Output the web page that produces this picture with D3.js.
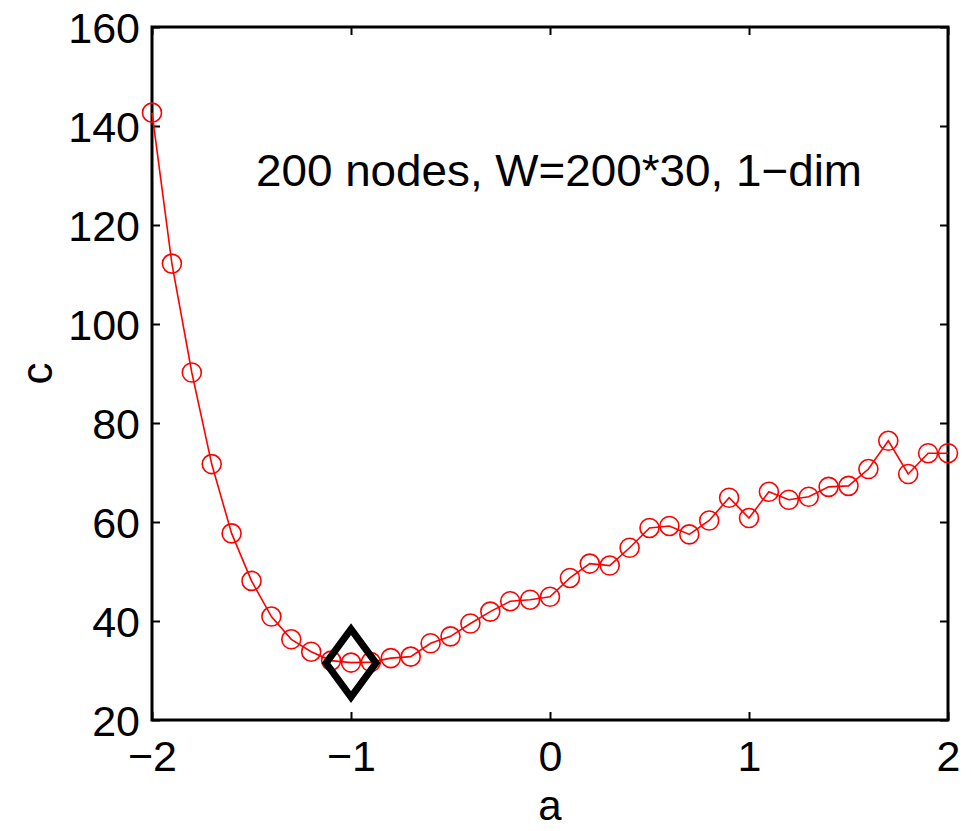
<!DOCTYPE html>
<html>
<head>
<meta charset="utf-8">
<script src="https://cdn.jsdelivr.net/npm/d3@7"></script>
<style>
	body { margin: 0; background: #fff; }
	text { font-family: "Liberation Sans", Arial, sans-serif; fill: #000; }
</style>
</head>
<body>
<div id="chart"></div>
<script>
// a values from -2 to 2 in 0.1 steps
const aValues = [-2.0, -1.9, -1.8, -1.7, -1.6, -1.5, -1.4, -1.3, -1.2, -1.1,
	-1.0, -0.9, -0.8, -0.7, -0.6, -0.5, -0.4, -0.3, -0.2, -0.1,
	0.0, 0.1, 0.2, 0.3, 0.4, 0.5, 0.6, 0.7, 0.8, 0.9,
	1.0, 1.1, 1.2, 1.3, 1.4, 1.5, 1.6, 1.7, 1.8, 1.9, 2.0];
const cValues = [142.7, 112.2, 90.2, 71.7, 57.7, 48.1, 40.9, 36.3, 33.8, 32.0,
	31.6, 31.7, 32.5, 32.8, 35.5, 36.9, 39.5, 41.9, 44.0, 44.3,
	44.9, 48.7, 51.6, 51.2, 54.8, 58.8, 59.2, 57.5, 60.3, 64.9,
	60.8, 66.1, 64.5, 65.1, 67.1, 67.3, 70.7, 76.4, 69.7, 73.9, 73.9];
const minPoint = { a: -1.0, c: 31.5 };
const xTicks = [-2, -1, 0, 1, 2];
const yTicks = [20, 40, 60, 80, 100, 120, 140, 160];
const titleText = "200 nodes, W=200*30, 1\u2212dim";

const W = 971, H = 831;
const margin = { top: 27, right: 23, bottom: 111, left: 152 };
const width = W - margin.left - margin.right;
const height = H - margin.top - margin.bottom;

const svg = d3.select("#chart").append("svg")
	.attr("width", W)
	.attr("height", H);

const g = svg.append("g")
	.attr("transform", `translate(${margin.left},${margin.top})`);

const x = d3.scaleLinear().domain([-2, 2]).range([0, width]);
const y = d3.scaleLinear().domain([20, 160]).range([height, 0]);

const fmt = d => d3.format("d")(d);
const tickLen = 8;

// axes with ticks pointing inward
const xBottom = g.append("g").attr("transform", `translate(0,${height})`)
	.call(d3.axisBottom(x).tickValues(xTicks).tickSizeInner(-tickLen).tickSizeOuter(0).tickPadding(20).tickFormat(fmt));
const xTop = g.append("g")
	.call(d3.axisTop(x).tickValues(xTicks).tickSizeInner(-tickLen).tickSizeOuter(0).tickFormat(""));
const yLeft = g.append("g")
	.call(d3.axisLeft(y).tickValues(yTicks).tickSizeInner(-tickLen).tickSizeOuter(0).tickPadding(12).tickFormat(fmt));
const yRight = g.append("g").attr("transform", `translate(${width},0)`)
	.call(d3.axisRight(y).tickValues(yTicks).tickSizeInner(-tickLen).tickSizeOuter(0).tickFormat(""));

[xBottom, xTop, yLeft, yRight].forEach(ax => {
	ax.select(".domain").remove();
	ax.selectAll(".tick line").attr("stroke", "#000").attr("stroke-width", 2);
	ax.selectAll(".tick text").style("font-size", "43px").attr("fill", "#000");
});
yLeft.selectAll(".tick text").attr("dy", "0.36em");
xBottom.selectAll(".tick text").attr("dy", "0.72em");

// box
g.append("rect")
	.attr("x", 0).attr("y", 0)
	.attr("width", width).attr("height", height)
	.attr("fill", "none")
	.attr("stroke", "#000")
	.attr("stroke-width", 3);

const data = aValues.map((a, i) => ({ a: a, c: cValues[i] }));

const line = d3.line()
	.x(d => x(d.a))
	.y(d => y(d.c));

g.append("path")
	.datum(data)
	.attr("d", line)
	.attr("fill", "none")
	.attr("stroke", "#ff0000")
	.attr("stroke-width", 1.6);

g.selectAll(".pt")
	.data(data)
	.enter()
	.append("circle")
	.attr("class", "pt")
	.attr("cx", d => x(d.a))
	.attr("cy", d => y(d.c))
	.attr("r", 9.5)
	.attr("fill", "none")
	.attr("stroke", "#ff0000")
	.attr("stroke-width", 1.6);

// minimum marker
const mx = x(minPoint.a), my = y(minPoint.c);
g.append("path")
	.attr("d", `M${mx},${my - 34} L${mx + 25},${my} L${mx},${my + 34} L${mx - 25},${my} Z`)
	.attr("fill", "none")
	.attr("stroke", "#000")
	.attr("stroke-width", 7)
	.attr("stroke-linejoin", "miter");

// annotation
svg.append("text")
	.attr("x", 256)
	.attr("y", 186)
	.style("font-size", "44px")
	.attr("textLength", 606)
	.attr("lengthAdjust", "spacingAndGlyphs")
	.text(titleText);

// axis labels
svg.append("text")
	.attr("x", margin.left + x(0))
	.attr("y", 820)
	.attr("text-anchor", "middle")
	.style("font-size", "42px")
	.text("a");

svg.append("text")
	.attr("transform", `translate(52,${margin.top + y(90)}) rotate(-90)`)
	.attr("text-anchor", "middle")
	.style("font-size", "44px")
	.text("c");
</script>
</body>
</html>
